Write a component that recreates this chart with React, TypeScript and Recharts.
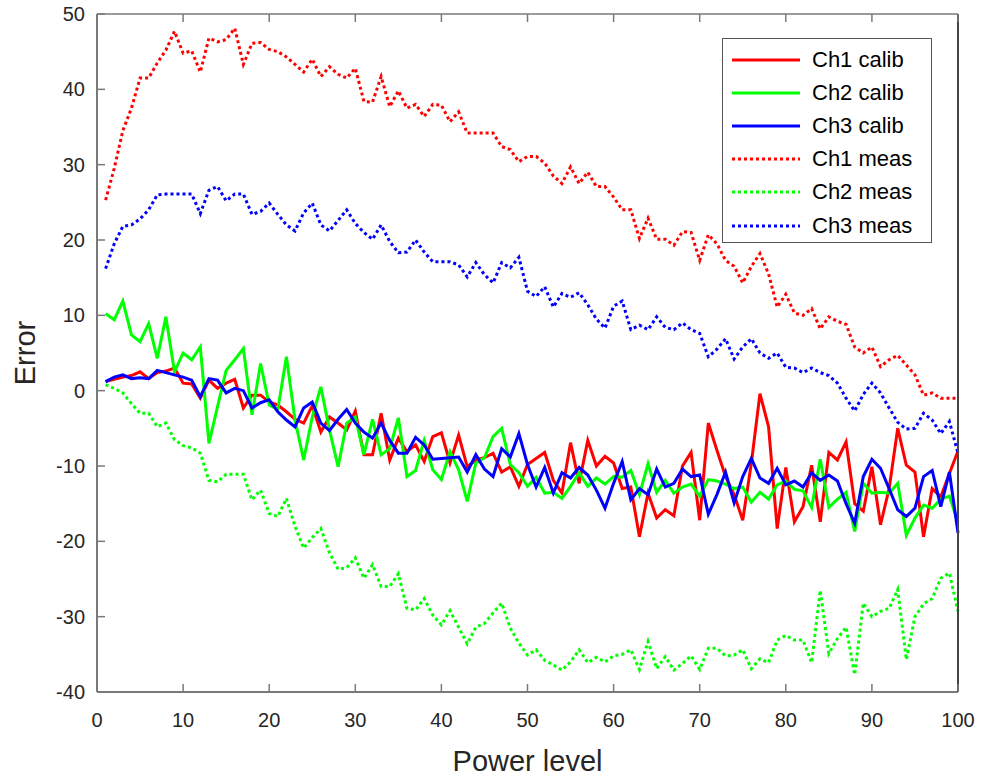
import React from 'react'
import { LineChart, Line, XAxis, YAxis, Legend } from 'recharts'

const powerLevels = [
  1, 2, 3, 4, 5, 6, 7, 8, 9, 10, 11, 12, 13, 14, 15, 16, 17, 18, 19, 20,
  21, 22, 23, 24, 25, 26, 27, 28, 29, 30, 31, 32, 33, 34, 35, 36, 37, 38, 39, 40,
  41, 42, 43, 44, 45, 46, 47, 48, 49, 50, 51, 52, 53, 54, 55, 56, 57, 58, 59, 60,
  61, 62, 63, 64, 65, 66, 67, 68, 69, 70, 71, 72, 73, 74, 75, 76, 77, 78, 79, 80,
  81, 82, 83, 84, 85, 86, 87, 88, 89, 90, 91, 92, 93, 94, 95, 96, 97, 98, 99, 100,
]

const ch1Calib = [
  1.2, 1.5, 1.8, 2.0, 2.5, 1.6, 2.4, 2.6, 3.0, 1.0, 0.9, -1.0, 1.4, 0.3, 1.0, 1.5, -2.3, -0.6, -0.6, -1.5,
  -1.9, -2.8, -3.8, -4.3, -2.0, -5.5, -3.5, -4.3, -5.2, -2.7, -8.5, -8.5, -3.0, -9.2, -6.3, -8.1, -7.2, -9.4, -6.1, -5.6,
  -9.6, -5.9, -10.1, -9.2, -8.9, -8.3, -10.8, -10.1, -12.7, -9.8, -9.0, -8.2, -11.9, -13.6, -6.9, -12.3, -6.6, -10.0, -8.7, -9.6,
  -13.0, -12.8, -19.4, -13.6, -16.9, -15.8, -16.6, -10.0, -8.2, -17.2, -4.3, -7.9, -11.4, -13.8, -17.2, -9.6, -0.4, -4.8, -18.3, -10.2,
  -17.4, -15.4, -9.9, -17.4, -8.2, -9.2, -6.8, -15.0, -16.0, -10.1, -17.8, -13.0, -5.0, -9.9, -10.8, -19.4, -13.0, -14.1, -11.0, -8.0,
]

const ch2Calib = [
  10.2, 9.4, 11.9, 7.4, 6.5, 8.9, 4.3, 9.8, 2.5, 5.0, 4.1, 5.8, -7.0, -2.1, 2.7, 4.1, 5.6, -3.2, 3.6, -1.9,
  -2.5, 4.5, -3.9, -9.2, -3.5, 0.5, -5.2, -10.1, -4.3, -3.5, -8.5, -3.8, -8.5, -7.7, -3.6, -11.4, -10.6, -6.6, -10.5, -11.8,
  -8.1, -10.5, -14.7, -9.6, -8.9, -6.1, -5.0, -9.8, -10.9, -12.7, -11.5, -13.6, -13.5, -14.3, -12.7, -10.9, -12.7, -11.6, -12.4, -11.4,
  -11.5, -10.6, -13.8, -9.7, -13.5, -11.9, -13.6, -12.8, -12.4, -14.0, -11.8, -12.0, -12.4, -13.0, -12.8, -14.8, -13.5, -14.4, -12.5, -12.0,
  -13.1, -13.3, -15.5, -9.1, -15.5, -14.4, -13.5, -18.7, -12.3, -13.6, -13.5, -13.6, -12.3, -19.2, -16.9, -15.2, -15.6, -14.4, -14.0, -17.5,
]

const ch3Calib = [
  1.2, 1.8, 2.1, 1.6, 1.7, 1.6, 2.7, 2.4, 2.1, 1.8, 1.4, -0.8, 1.6, 1.4, -0.3, 0.3, 0.0, -2.3, -1.6, -1.2,
  -2.8, -3.9, -4.8, -2.3, -1.5, -4.3, -5.3, -3.8, -2.5, -4.3, -5.5, -6.3, -4.3, -6.6, -8.3, -8.3, -6.2, -7.2, -9.1, -9.0,
  -8.9, -8.8, -10.8, -8.5, -10.4, -11.4, -7.7, -8.8, -5.7, -9.8, -12.8, -10.2, -13.6, -10.9, -11.6, -10.2, -11.2, -13.2, -15.6, -12.3,
  -9.4, -14.5, -13.0, -13.8, -10.4, -12.8, -12.3, -10.4, -11.4, -11.2, -16.4, -13.8, -10.8, -14.9, -11.4, -9.0, -11.6, -12.3, -10.3, -12.5,
  -12.0, -12.8, -10.9, -11.9, -11.2, -12.0, -15.0, -17.6, -11.4, -9.1, -10.3, -13.0, -15.8, -16.7, -15.6, -11.4, -10.6, -15.4, -10.8, -18.9,
]

const ch1Meas = [
  25.3, 29.5, 34.5, 37.5, 41.5, 41.5, 43.5, 45.2, 47.7, 44.8, 45.1, 42.3, 46.8, 46.3, 46.6, 48.1, 43.3, 46.1, 46.2, 45.3,
  45.0, 44.3, 43.3, 42.3, 44.0, 41.7, 43.0, 42.0, 41.5, 42.8, 38.4, 38.3, 41.7, 37.7, 39.8, 37.5, 38.0, 36.4, 38.0, 37.9,
  35.7, 37.0, 34.2, 34.2, 34.2, 34.2, 32.4, 32.0, 30.4, 31.1, 31.1, 30.2, 28.5, 27.5, 29.7, 27.5, 29.0, 27.1, 27.1, 25.7,
  24.0, 24.0, 20.2, 22.9, 20.1, 20.1, 19.3, 21.1, 21.0, 17.3, 20.7, 19.5, 17.3, 16.5, 14.3, 16.5, 18.2, 15.5, 11.1, 12.8,
  10.3, 10.0, 10.9, 8.2, 9.8, 9.2, 8.8, 5.8, 5.0, 5.8, 3.2, 4.1, 4.7, 3.4, 2.1, -0.6, -0.3, -1.0, -1.0, -1.0,
]

const ch2Meas = [
  0.8, 0.3, -0.3, -1.7, -3.0, -3.0, -4.8, -4.3, -6.5, -7.3, -7.6, -8.3, -11.9, -12.1, -11.1, -11.1, -11.1, -14.5, -13.2, -16.3,
  -16.7, -14.3, -18.0, -20.9, -19.5, -18.3, -21.5, -23.7, -23.5, -22.2, -24.9, -23.1, -26.0, -26.0, -24.3, -28.9, -29.1, -27.6, -29.8, -31.1,
  -29.2, -31.4, -33.6, -31.4, -30.9, -29.5, -28.2, -31.5, -33.5, -35.1, -34.4, -35.8, -36.4, -37.1, -36.0, -34.4, -36.1, -35.4, -36.0, -35.2,
  -35.0, -34.4, -37.0, -33.3, -36.9, -35.3, -37.1, -36.2, -35.2, -37.0, -34.2, -34.2, -35.2, -35.1, -34.4, -36.9, -35.6, -36.1, -33.1, -32.5,
  -33.1, -33.1, -36.1, -26.5, -34.9, -32.9, -31.4, -37.7, -28.2, -30.0, -29.3, -28.9, -26.4, -35.7, -30.0, -28.3, -27.6, -24.9, -24.2, -29.3,
]

const ch3Meas = [
  16.2, 19.5, 21.8, 22.0, 22.8, 24.0, 26.0, 26.1, 26.1, 26.1, 26.1, 23.5, 26.6, 27.1, 25.2, 26.1, 26.1, 23.4, 23.8, 24.9,
  23.4, 22.0, 21.2, 23.6, 24.9, 22.0, 21.2, 22.6, 24.0, 22.2, 21.0, 20.1, 22.0, 19.8, 18.3, 18.4, 20.0, 18.4, 17.1, 17.1,
  17.1, 16.7, 15.1, 17.0, 15.4, 14.3, 17.0, 16.3, 17.7, 13.2, 12.5, 13.8, 11.1, 12.9, 12.4, 13.0, 11.4, 9.5, 8.3, 11.2,
  11.9, 8.1, 8.7, 8.1, 9.8, 8.4, 8.1, 9.0, 8.1, 7.6, 4.5, 5.5, 6.9, 4.2, 5.8, 6.9, 5.0, 4.3, 5.0, 3.1,
  3.0, 2.4, 3.0, 2.4, 2.0, 1.0, -1.0, -2.7, -0.5, 1.0, -0.3, -2.3, -4.2, -5.1, -5.0, -3.0, -3.9, -5.7, -4.1, -8.3,
]

const xTicks = [0, 10, 20, 30, 40, 50, 60, 70, 80, 90, 100]
const yTicks = [-40, -30, -20, -10, 0, 10, 20, 30, 40, 50]

const SERIES = [
  { key: 'ch1Calib', label: 'Ch1 calib', color: '#ff0000', dotted: false },
  { key: 'ch2Calib', label: 'Ch2 calib', color: '#00ff00', dotted: false },
  { key: 'ch3Calib', label: 'Ch3 calib', color: '#0000ff', dotted: false },
  { key: 'ch1Meas', label: 'Ch1 meas', color: '#ff0000', dotted: true },
  { key: 'ch2Meas', label: 'Ch2 meas', color: '#00ff00', dotted: true },
  { key: 'ch3Meas', label: 'Ch3 meas', color: '#0000ff', dotted: true },
]

const data = powerLevels.map((x, i) => ({
  x,
  ch1Calib: ch1Calib[i], ch2Calib: ch2Calib[i], ch3Calib: ch3Calib[i],
  ch1Meas: ch1Meas[i], ch2Meas: ch2Meas[i], ch3Meas: ch3Meas[i],
}))

const FONT = '"Liberation Sans", Arial, sans-serif'
const AXIS_COLOR = '#7a7a7a'
const TEXT_COLOR = '#262626'
const TICK_LEN = 8

// tick marks point inward (matlab style), labels outside
const BottomTick = ({ x, y, payload }: any) => (
  <g>
    <line x1={x} y1={y} x2={x} y2={y - TICK_LEN} stroke={AXIS_COLOR} strokeWidth={1.5} />
    <text x={x} y={y + 35} textAnchor="middle" fontSize={20} fontFamily={FONT} fill={TEXT_COLOR}>{payload.value}</text>
  </g>
)
const LeftTick = ({ x, y, payload }: any) => (
  <g>
    <line x1={x} y1={y} x2={x + TICK_LEN} y2={y} stroke={AXIS_COLOR} strokeWidth={1.5} />
    <text x={x - 12} y={y + 7} textAnchor="end" fontSize={20} fontFamily={FONT} fill={TEXT_COLOR}>{payload.value}</text>
  </g>
)
const TopTick = ({ x, y }: any) => (
  <line x1={x} y1={y} x2={x} y2={y + TICK_LEN} stroke={AXIS_COLOR} strokeWidth={1.5} />
)
const RightTick = ({ x, y }: any) => (
  <line x1={x} y1={y} x2={x - TICK_LEN} y2={y} stroke="#444" strokeWidth={1.5} />
)

const renderLegend = () => (
  <div style={{
    width: 210, height: 205, boxSizing: 'border-box', border: '1.5px solid #555',
    background: '#fff', paddingTop: 4, fontFamily: FONT, fontSize: 22, color: '#000',
  }}>
    {SERIES.map(s => (
      <div key={s.key} style={{ display: 'flex', alignItems: 'center', height: 33.2 }}>
        <svg width={89} height={12} style={{ display: 'block', flex: 'none' }}>
          <line x1={9} y1={6} x2={77} y2={6} stroke={s.color} strokeWidth={3}
            strokeDasharray={s.dotted ? '3 3' : undefined} />
        </svg>
        <span style={{ whiteSpace: 'nowrap' }}>{s.label}</span>
      </div>
    ))}
  </div>
)

export default function App() {
  return (
    <div style={{ position: 'absolute', left: 0, top: 0, background: '#fff' }}>
      <LineChart width={983} height={776} data={data} margin={{ top: 13, right: 24, left: 0, bottom: 0 }}>
        <XAxis dataKey="x" type="number" domain={[0, 100]} ticks={xTicks} interval={0}
          height={84} tickLine={false} tickSize={0} tickMargin={0} tick={<BottomTick />}
          axisLine={{ stroke: AXIS_COLOR, strokeWidth: 2 }}
          label={{ value: 'Power level', position: 'center', dy: 27, fontSize: 29, fontFamily: FONT, fill: TEXT_COLOR }} />
        <XAxis xAxisId="top" orientation="top" dataKey="x" type="number" domain={[0, 100]} ticks={xTicks} interval={0}
          height={1} tickLine={false} tickSize={0} tickMargin={0} tick={<TopTick />}
          axisLine={{ stroke: AXIS_COLOR, strokeWidth: 1.5 }} />
        <YAxis type="number" domain={[-40, 50]} ticks={yTicks} interval={0} width={97}
          tickLine={false} tickSize={0} tickMargin={0} tick={<LeftTick />}
          axisLine={{ stroke: AXIS_COLOR, strokeWidth: 2 }}
          label={{ value: 'Error', position: 'center', angle: -90, dx: -24, fontSize: 29, fontFamily: FONT, fill: TEXT_COLOR }} />
        <YAxis yAxisId="right" orientation="right" type="number" domain={[-40, 50]} ticks={yTicks} interval={0} width={1}
          tickLine={false} tickSize={0} tickMargin={0} tick={<RightTick />}
          axisLine={{ stroke: '#444', strokeWidth: 2 }} />
        <Legend layout="horizontal" verticalAlign="middle" align="center" content={renderLegend}
          wrapperStyle={{ position: 'absolute', left: 722, top: 38, width: 210, height: 205 }} />
        {SERIES.map(s => (
          <Line key={s.key} type="linear" dataKey={s.key} name={s.label} stroke={s.color}
            strokeWidth={3} strokeDasharray={s.dotted ? '3 3' : undefined}
            dot={false} activeDot={false} isAnimationActive={false} />
        ))}
      </LineChart>
    </div>
  )
}
